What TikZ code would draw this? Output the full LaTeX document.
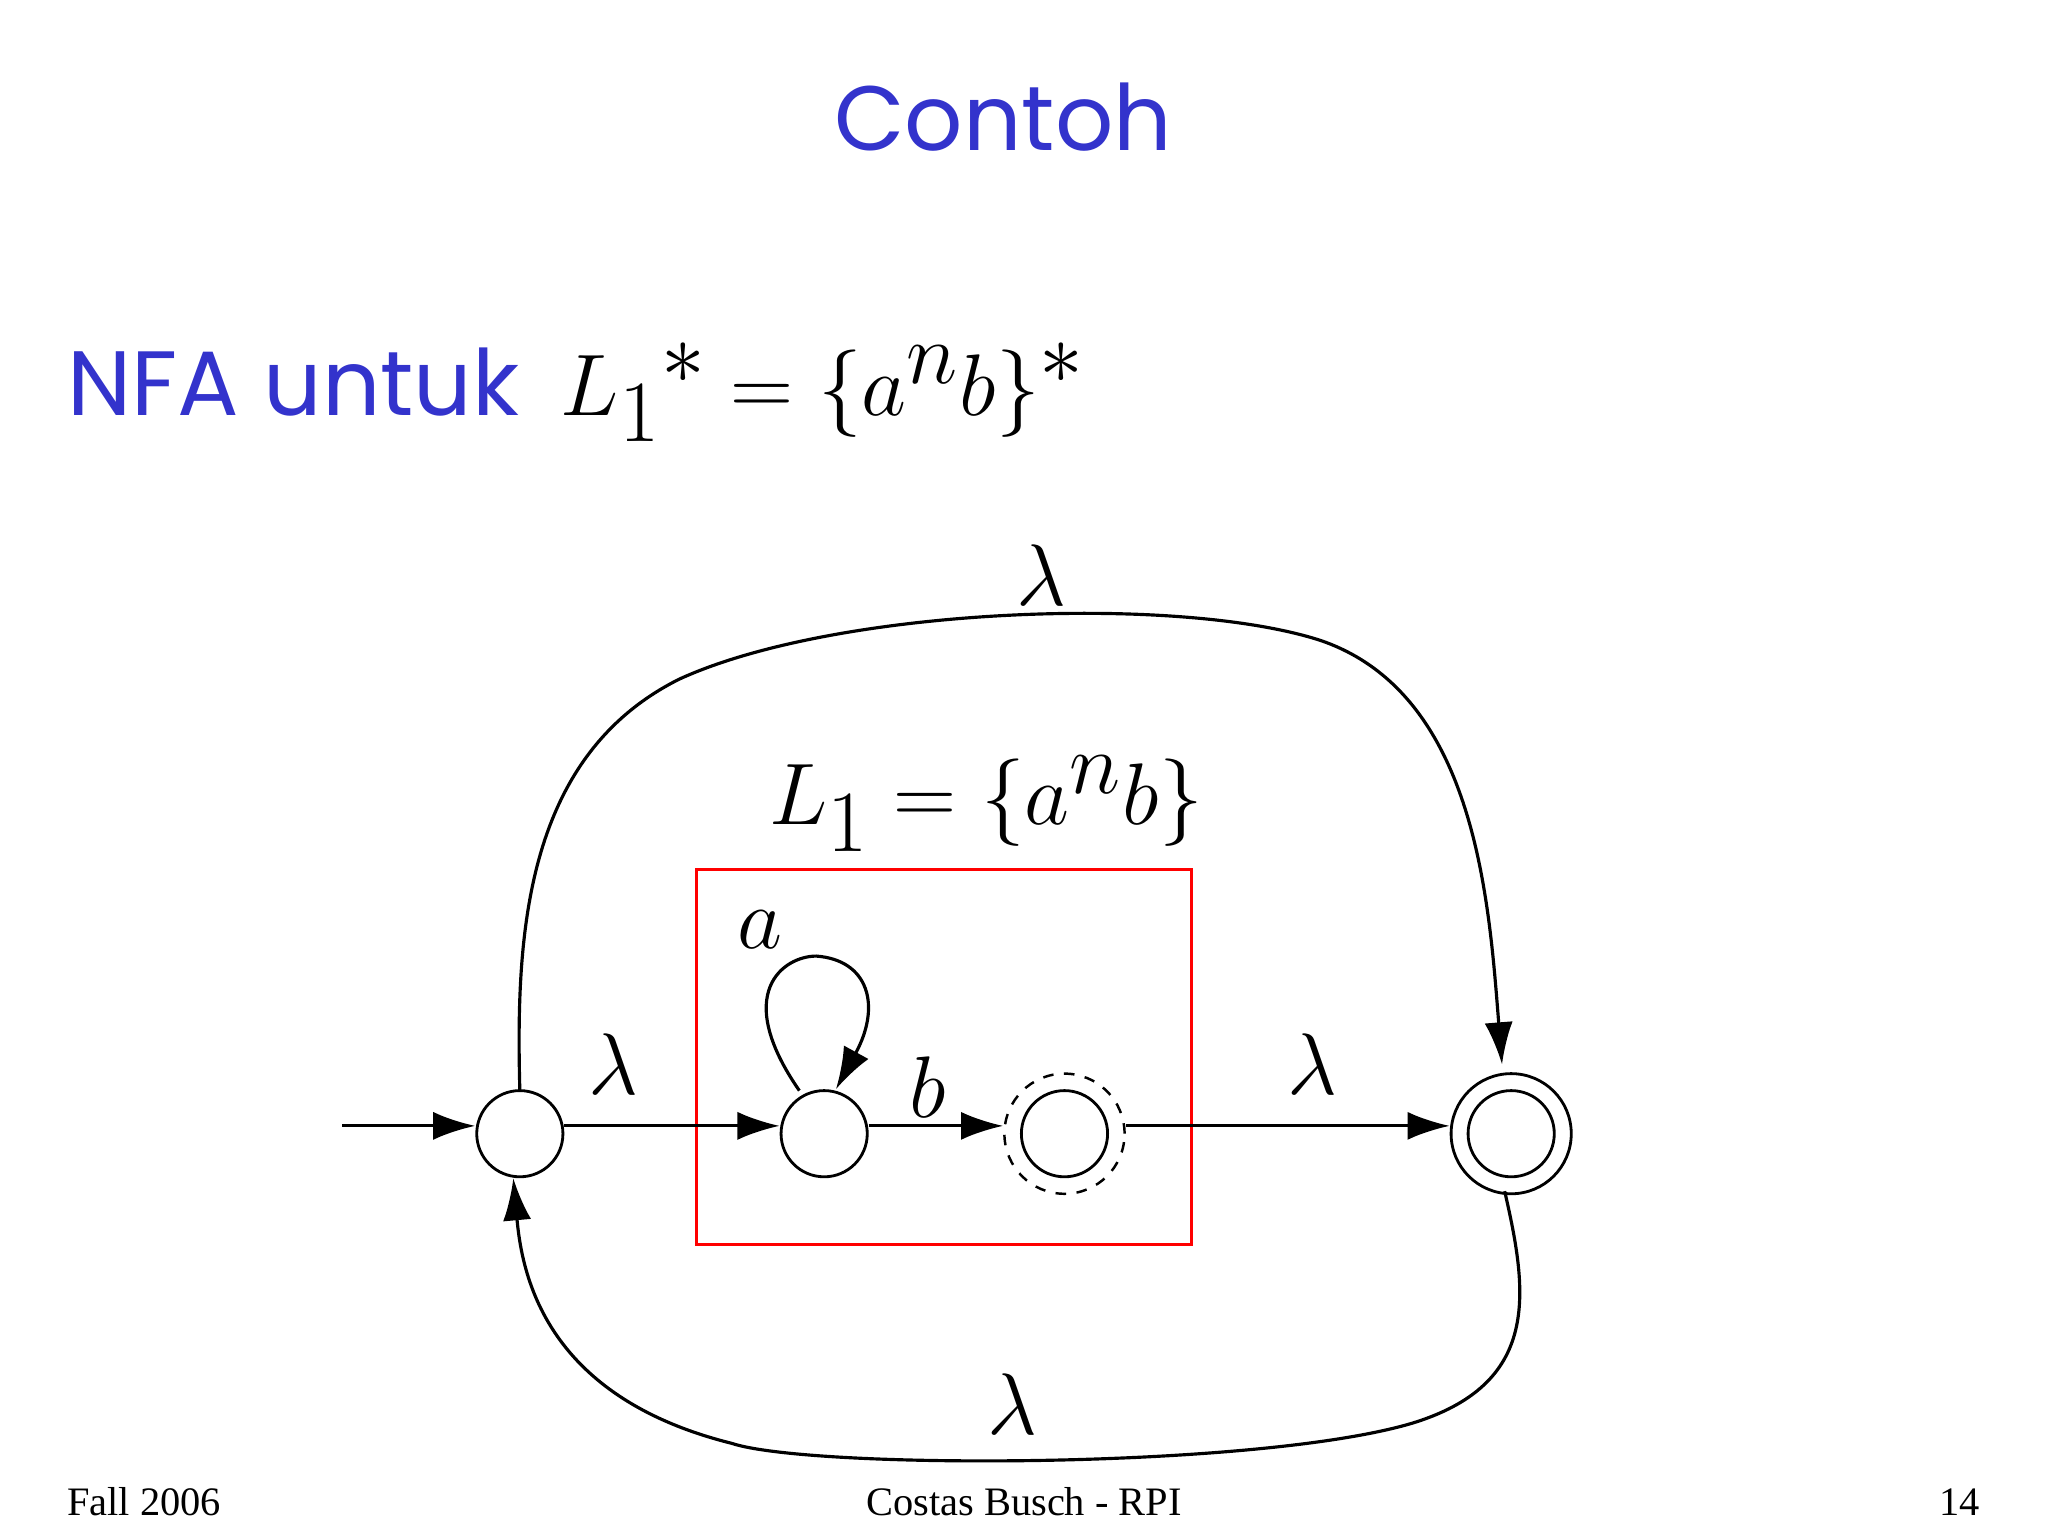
\documentclass[tikz,border=0pt]{standalone}
\usepackage{fontspec}
\setmainfont{Liberation Serif}
\newfontfamily\titlefont{Poppins}
\usetikzlibrary{arrows.meta}
\definecolor{tblue}{RGB}{51,51,204}
\begin{document}
\begin{tikzpicture}[x=0.01306cm,y=-0.01306cm,
  st/.style={circle,draw,line width=0.8pt,minimum size=66*0.01306cm,inner sep=0pt},
  arr/.style={-{Latex[length=12pt,width=8pt]},line width=0.9pt},
  lbl/.style={font=\fontsize{30}{32}\selectfont}]
\useasboundingbox (0,0) rectangle (1568,1176);
\node[text=tblue,font=\titlefont\fontsize{26}{30}\selectfont] (title) at (768,90) {Contoh};
\node[anchor=base west,text=tblue,font=\titlefont\fontsize{26}{30}\selectfont] (nfa) at (42,318) {NFA untuk};
\node[anchor=base west,font=\fontsize{36}{40}\selectfont] (eq) at (420,318) {$L_1{}^* = \{a^n b\}^*$};
\node[font=\fontsize{36}{40}\selectfont] (l1) at (755,615) {$L_1 = \{a^n b\}$};
\draw[red,line width=0.8pt] (533,666) rectangle (912,953);
\node[st] (q0) at (398,868) {};
\node[st] (q1) at (631,868) {};
\node[st] (q2) at (815,868) {};
\node[circle,draw,dashed,line width=0.7pt,minimum size=92*0.01306cm] (q2o) at (815,868) {};
\node[st] (qf) at (1157,868) {};
\node[circle,draw,line width=0.8pt,minimum size=92*0.01306cm] (qfo) at (1157,868) {};
\coordinate (s) at (262,862);
\draw[arr] (s) -- (s -| q0.west);
\draw[arr] (q0.east |- s) -- (q1.west |- s) ;
\draw[arr] (q1.east |- s) -- (q2o.west |- s);
\draw[arr] (q2o.east |- s) -- (qfo.west |- s);
\node[lbl] (la1) at (470,815) {$\lambda$};
\node[lbl] (lb) at (710,832) {$b$};
\node[lbl] (la2) at (1005,815) {$\lambda$};
\node[lbl] (la) at (582,712) {$a$};
\draw[arr] (612,835) .. controls (560,760) and (600,732) .. (625,732) .. controls (665,735) and (675,770) .. (640,834);
\draw[arr] (398,835) .. controls (395,720) and (400,580) .. (520,520) .. controls (640,465) and (900,455) .. (1010,490) .. controls (1130,530) and (1140,690) .. (1150,815);
\node[lbl] (lt) at (797,440) {$\lambda$};
\draw[arr] (1152,912) .. controls (1170,990) and (1180,1060) .. (1080,1090) .. controls (960,1125) and (620,1125) .. (560,1105) .. controls (420,1070) and (400,980) .. (393,902);
\node[font=\fontsize{40}{44}\selectfont] (lbot) at (775,1075) {$\lambda$};
\node[anchor=base west,font=\fontsize{11.5}{14}\selectfont] (f1) at (42,1160) {Fall 2006};
\node[anchor=base,font=\fontsize{11.5}{14}\selectfont] (f2) at (784,1160) {Costas Busch - RPI};
\node[anchor=base east,font=\fontsize{11.5}{14}\selectfont] (f3) at (1525,1160) {14};
\end{tikzpicture}
\end{document}
